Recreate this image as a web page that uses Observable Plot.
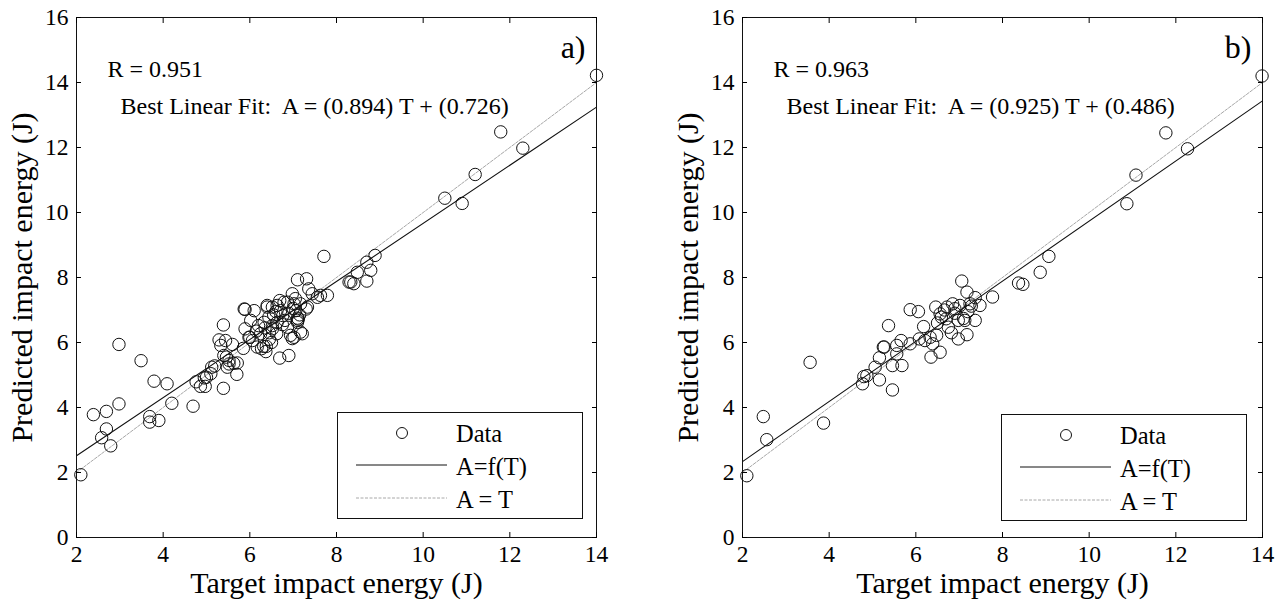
<!DOCTYPE html>
<html><head><meta charset="utf-8">
<script src="https://cdn.jsdelivr.net/npm/d3@7"></script>
<script src="https://cdn.jsdelivr.net/npm/@observablehq/plot@0.6"></script>
<style>
body{margin:0;background:#fff;font-family:"Liberation Serif","Times New Roman",serif;}
#wrap{position:relative;width:1279px;height:604px;overflow:hidden;}
.panel{position:absolute;top:0;}
.panel text{font-family:"Liberation Serif","Times New Roman",serif;}
.legend{position:absolute;}
</style></head><body><div id="wrap"></div>
<script>
// ---------- data ----------
const xTicks = [2, 4, 6, 8, 10, 12, 14];
const yTicks = [0, 2, 4, 6, 8, 10, 12, 14, 16];
const xTitle = "Target impact energy (J)";
const yTitle = "Predicted impact energy (J)";
const panelLabels = ["a)", "b)"];
const rValues = ["0.951", "0.963"];
const slopes = [0.894, 0.925];
const intercepts = [0.726, 0.486];
const legendLabels = ["Data", "A=f(T)", "A = T"];

// panel a) : target vs predicted
const targetA = [2.10,2.39,2.58,2.69,2.69,2.79,2.98,2.98,3.49,3.69,3.69,3.79,3.90,4.09,4.20,4.69,4.76,4.86,4.97,5.00,
  5.10,5.19,5.39,5.39,5.29,5.33,5.44,5.46,5.52,5.63,5.71,5.70,5.60,5.85,5.89,6.10,5.89,6.00,6.06,6.17,
  6.27,6.37,6.38,6.20,6.25,6.33,6.40,6.44,6.52,6.63,6.69,6.69,6.71,6.76,6.81,6.87,6.90,6.94,6.98,7.02,
  7.06,7.10,7.12,7.10,7.10,6.98,7.17,7.31,7.33,7.36,7.44,7.56,7.71,7.79,8.29,8.40,8.48,8.70,8.79,8.70,
  8.89,10.50,10.90,11.20,11.79,12.30,14.00,7.63,7.30,7.17,6.87,7.21,7.02,6.62,6.52,6.40,6.52,6.63,6.79,6.32,
  5.87,6.02,5.98,5.40,5.52,5.48,5.12,4.95,6.45,6.55,6.60,6.90,7.00,6.75,7.05,6.35,6.45,6.15,6.50,7.15,7.10,8.33];
const predA = [1.93,3.78,3.07,3.88,3.34,2.82,4.11,5.94,5.44,3.72,3.55,4.81,3.60,4.73,4.13,4.04,4.79,4.65,4.65,4.93,
  5.04,5.28,4.59,6.54,6.08,5.91,6.06,5.55,5.34,5.36,5.37,5.02,5.94,5.82,7.02,6.98,6.42,6.16,6.06,5.86,
  5.81,5.72,5.88,6.52,6.27,6.62,7.09,6.78,6.42,6.62,7.29,5.52,6.98,6.83,6.68,6.47,5.60,6.22,7.50,7.19,
  6.98,6.68,6.72,6.75,7.93,6.12,6.32,7.96,7.09,7.65,7.50,7.39,8.65,7.45,7.86,7.81,8.16,8.47,8.22,7.89,
  8.68,10.44,10.28,11.17,12.48,11.98,14.22,7.45,7.03,7.19,7.24,6.27,6.16,6.27,6.52,7.14,7.09,7.14,7.24,5.88,
  7.03,6.68,6.16,5.60,5.45,5.24,5.24,4.91,6.30,6.85,6.95,6.90,7.05,6.55,7.35,6.45,6.10,6.35,6.00,6.85,6.62,7.86];

// panel b) : target vs predicted
const targetB = [2.10,2.48,2.56,3.56,3.87,4.77,4.87,5.06,5.16,5.16,5.27,5.37,5.46,5.46,5.56,5.68,5.66,5.87,5.87,6.06,
  6.18,6.08,6.21,6.35,6.39,6.48,6.56,6.46,6.59,6.66,6.75,6.85,6.90,6.98,7.06,7.10,7.18,7.18,7.25,7.28,
  7.37,7.37,7.48,7.77,8.37,8.47,8.87,9.07,10.87,11.08,11.77,12.27,13.99,6.56,6.72,7.02,6.70,6.98,7.13,6.33,
  5.25,5.56,4.80,6.50,6.90,7.20,6.82];
const predB = [1.90,3.72,3.01,5.39,3.52,4.73,4.98,5.24,4.85,5.53,5.86,6.52,4.54,5.29,5.65,5.29,6.06,5.96,7.01,6.95,
  6.49,6.11,6.06,5.55,5.96,6.22,5.70,7.09,6.78,7.00,6.47,7.19,7.04,6.11,7.89,6.74,7.55,6.24,7.19,7.12,
  6.68,7.38,7.14,7.40,7.83,7.79,8.16,8.65,10.27,11.15,12.45,11.96,14.20,6.88,7.09,7.14,6.73,6.68,6.68,6.16,
  5.86,5.91,4.95,6.60,6.90,6.95,6.30];

const panels = [
  {T: targetA, A: predA, left: 0, width: 640, ml: 76, mr: 44, legLeft: 337, legTop: 412},
  {T: targetB, A: predB, left: 640, width: 639, ml: 102, mr: 17, legLeft: 1001, legTop: 414}
];

const FONT = "Liberation Serif, Times New Roman, serif";
const wrap = document.getElementById("wrap");
const xDomain = [xTicks[0], xTicks[xTicks.length - 1]];
const noText = () => "";

panels.forEach((p, i) => {
  const pts = p.T.map((t, j) => ({t, a: p.A[j]}));
  const fit = xDomain.map(t => ({t, a: slopes[i] * t + intercepts[i]}));
  const ident = xDomain.map(t => ({t, a: t}));
  const txt = (s, o) => Plot.text([s], {text: d => d, fontFamily: FONT, fill: "#000", lineAnchor: "middle", ...o});
  const chart = Plot.plot({
    width: p.width, height: 604,
    marginLeft: p.ml, marginRight: p.mr, marginTop: 17, marginBottom: 67,
    style: {fontFamily: FONT, color: "#000", background: "transparent", overflow: "visible"},
    x: {domain: xDomain, label: null},
    y: {domain: [yTicks[0], yTicks[yTicks.length - 1]], label: null},
    marks: [
      Plot.line(ident, {x: "t", y: "a", stroke: "#a8a8a8", strokeWidth: 1, strokeDasharray: "3,1.5"}),
      Plot.line(fit, {x: "t", y: "a", stroke: "#111", strokeWidth: 1.1}),
      Plot.dot(pts, {x: "t", y: "a", r: 6.2, stroke: "#111", strokeWidth: 1, fill: "none"}),
      Plot.frame({stroke: "#111", strokeWidth: 1}),
      Plot.axisX({ticks: xTicks, anchor: "bottom", tickSize: 0, tickPadding: 8, fontSize: 23.5, fontFamily: FONT, label: null}),
      Plot.axisY({ticks: yTicks, anchor: "left", tickSize: 0, tickPadding: 8, fontSize: 23.5, fontFamily: FONT, label: null}),
      Plot.axisX({ticks: xTicks, anchor: "bottom", tickSize: -5, tickFormat: noText, label: null}),
      Plot.axisX({ticks: xTicks, anchor: "top", tickSize: -5, tickFormat: noText, label: null}),
      Plot.axisY({ticks: yTicks, anchor: "left", tickSize: -5, tickFormat: noText, label: null}),
      Plot.axisY({ticks: yTicks, anchor: "right", tickSize: -5, tickFormat: noText, label: null}),
      txt(xTitle, {frameAnchor: "bottom", textAnchor: "middle", dy: 46, fontSize: 30}),
      txt(yTitle, {frameAnchor: "left", textAnchor: "middle", dx: -54, rotate: -90, fontSize: 30}),
      txt("R = " + rValues[i], {frameAnchor: "top-left", dx: 31, dy: 52, textAnchor: "start", fontSize: 24}),
      txt("Best Linear Fit:  A = (" + slopes[i].toFixed(3) + ") T + (" + intercepts[i].toFixed(3) + ")",
        {frameAnchor: "top-left", dx: 44, dy: 89, textAnchor: "start", fontSize: 24}),
      txt(panelLabels[i], {frameAnchor: "top-right", dx: -11, dy: 30, textAnchor: "end", fontSize: 32})
    ]
  });
  chart.classList.add("panel");
  chart.style.left = p.left + "px";
  wrap.appendChild(chart);

  // legend box
  const ns = "http://www.w3.org/2000/svg";
  const lg = document.createElementNS(ns, "svg");
  lg.setAttribute("class", "legend");
  lg.setAttribute("width", 246); lg.setAttribute("height", 107);
  lg.style.left = p.legLeft + "px"; lg.style.top = p.legTop + "px";
  lg.innerHTML =
    `<rect x="0.5" y="0.5" width="245" height="106" fill="#fff" stroke="#111" stroke-width="1"/>
     <circle cx="65" cy="21" r="5.5" fill="none" stroke="#111" stroke-width="1"/>
     <line x1="19" x2="110" y1="53" y2="53" stroke="#111" stroke-width="1"/>
     <line x1="19" x2="110" y1="86" y2="86" stroke="#a8a8a8" stroke-width="1" stroke-dasharray="3,1.5"/>` +
    legendLabels.map((l, k) => `<text x="119" y="${[21, 54, 87][k]}" dy="0.35em" font-family="${FONT}" font-size="24.5" fill="#000">${l}</text>`).join("");
  wrap.appendChild(lg);
});
</script>
</body></html>
